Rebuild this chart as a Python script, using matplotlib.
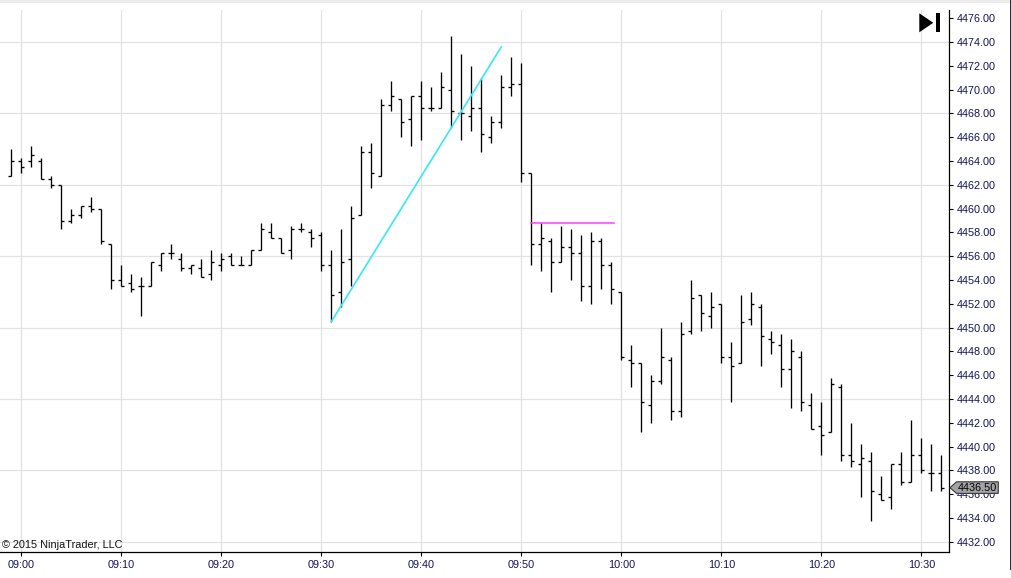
import matplotlib
matplotlib.use("Agg")
import matplotlib.pyplot as plt
from matplotlib.patches import Polygon, Rectangle
import pandas as pd

# --- data: 1-minute OHLC bars, 08:59 .. 10:32 ---
opens = [4462.75, 4464.0, 4464.0, 4464.0, 4462.5, 4462.0, 4459.0, 4459.5, 4460.25, 4460.0,
         4457.0, 4454.0, 4453.75, 4453.5, 4453.5, 4455.25, 4456.25, 4455.75, 4455.0, 4455.0,
         4454.5, 4455.25, 4456.0, 4455.25, 4455.25, 4456.5, 4458.0, 4457.5, 4456.5, 4458.25,
         4458.0, 4457.75, 4455.25, 4453.0, 4455.75, 4459.5, 4464.75, 4462.75, 4468.75, 4469.25,
         4467.5, 4469.5, 4468.5, 4468.5, 4470.0, 4468.0, 4467.75, 4468.5, 4466.0, 4467.25,
         4470.25, 4470.5, 4463.0, 4457.0, 4457.25, 4455.5, 4456.75, 4456.25, 4453.5, 4457.25,
         4455.25, 4453.0, 4447.25, 4447.0, 4443.5, 4445.5, 4447.25, 4443.0, 4449.75, 4452.75,
         4451.0, 4452.0, 4447.5, 4447.0, 4450.75, 4451.75, 4449.0, 4448.5, 4446.5, 4447.5,
         4443.5, 4441.75, 4441.25, 4445.0, 4439.25, 4438.5, 4438.75, 4436.0, 4435.75, 4438.5,
         4437.0, 4439.25, 4437.75, 4437.75]
highs = [4465.0, 4464.25, 4465.25, 4464.25, 4462.75, 4462.0, 4460.0, 4460.25, 4461.0, 4460.0,
         4457.0, 4455.25, 4454.5, 4454.25, 4455.5, 4456.25, 4457.0, 4456.25, 4455.25, 4455.75,
         4456.5, 4456.25, 4456.25, 4456.0, 4456.5, 4458.75, 4458.75, 4457.5, 4458.5, 4458.75,
         4458.25, 4458.0, 4456.5, 4458.25, 4460.25, 4465.25, 4465.5, 4469.25, 4470.75, 4469.25,
         4469.5, 4470.75, 4470.25, 4471.5, 4474.5, 4473.0, 4472.0, 4471.0, 4467.75, 4471.25,
         4472.75, 4472.25, 4463.0, 4458.75, 4457.5, 4458.5, 4458.25, 4457.75, 4458.0, 4457.5,
         4455.5, 4453.0, 4448.5, 4447.0, 4446.0, 4450.0, 4447.5, 4450.5, 4454.0, 4452.75,
         4453.0, 4452.0, 4448.75, 4452.75, 4453.0, 4452.0, 4449.75, 4449.5, 4449.0, 4448.0,
         4444.5, 4443.75, 4445.75, 4445.25, 4442.0, 4440.25, 4439.5, 4437.5, 4438.5, 4439.5,
         4442.25, 4440.75, 4440.25, 4439.25]
lows = [4462.75, 4463.0, 4463.5, 4462.5, 4461.75, 4458.25, 4458.75, 4459.25, 4459.75, 4457.0,
        4453.25, 4453.5, 4453.0, 4451.0, 4453.5, 4454.75, 4455.75, 4454.75, 4454.5, 4454.25,
        4454.0, 4454.75, 4455.25, 4455.25, 4455.25, 4456.5, 4457.5, 4456.25, 4455.75, 4458.0,
        4456.75, 4454.75, 4450.5, 4451.75, 4453.5, 4459.5, 4461.75, 4462.75, 4468.25, 4466.0,
        4465.25, 4465.75, 4468.25, 4468.5, 4466.75, 4465.75, 4466.5, 4464.75, 4465.5, 4466.75,
        4469.5, 4462.25, 4455.25, 4454.75, 4453.0, 4455.5, 4454.0, 4452.25, 4452.0, 4453.25,
        4452.0, 4447.25, 4445.0, 4441.25, 4442.0, 4445.25, 4442.25, 4442.5, 4449.5, 4449.75,
        4450.0, 4447.0, 4443.75, 4447.0, 4450.25, 4446.75, 4447.75, 4445.0, 4443.25, 4443.0,
        4441.5, 4439.25, 4441.25, 4438.75, 4438.25, 4435.75, 4433.75, 4435.5, 4434.75, 4436.75,
        4437.0, 4437.75, 4436.25, 4436.25]
closes = [4464.0, 4463.5, 4464.5, 4462.5, 4462.0, 4459.0, 4459.5, 4460.25, 4460.0, 4457.25,
          4454.0, 4453.5, 4453.25, 4453.5, 4455.5, 4456.25, 4456.25, 4455.0, 4455.25, 4454.25,
          4455.5, 4455.75, 4455.25, 4455.25, 4456.5, 4458.25, 4457.5, 4456.25, 4458.25, 4458.25,
          4457.5, 4455.25, 4452.75, 4455.5, 4459.25, 4464.75, 4463.0, 4468.75, 4469.5, 4467.25,
          4469.5, 4468.5, 4468.5, 4470.25, 4468.25, 4468.0, 4468.5, 4466.25, 4467.25, 4470.25,
          4470.5, 4463.0, 4457.0, 4457.5, 4455.5, 4456.75, 4456.25, 4453.5, 4457.25, 4455.25,
          4453.25, 4447.5, 4447.0, 4443.75, 4445.5, 4447.5, 4443.0, 4449.5, 4452.5, 4451.25,
          4451.75, 4447.5, 4446.75, 4450.5, 4452.0, 4449.25, 4448.75, 4446.5, 4448.0, 4443.75,
          4441.5, 4441.0, 4445.25, 4439.25, 4438.75, 4439.0, 4436.25, 4435.5, 4438.5, 4437.0,
          4439.25, 4438.0, 4437.75, 4436.5]

times = pd.date_range("2015-01-01 08:59", periods=len(opens), freq="min")
session_start = pd.Timestamp("2015-01-01 09:00")

# drawing objects on the chart
trend_start = ("09:31", 4450.5)
trend_end = ("09:48", 4473.6)
hline_price = 4458.8
hline_span = ("09:51", "09:59:18")

xtick_labels = ["09:00", "09:10", "09:20", "09:30", "09:40", "09:50",
                "10:00", "10:10", "10:20", "10:30"]
ytick_values = [4432 + 2 * i for i in range(23)]
ygrid_values = [4432, 4438, 4444, 4450, 4456, 4462, 4468, 4474]
last_price = closes[-1]

W, H = 1012, 578
label_color = "#14145a"


def minutes(t):
    return (pd.Timestamp("2015-01-01 " + t) - session_start).total_seconds() / 60


x = [(t - session_start).total_seconds() / 60 for t in times]

plt.rcParams['font.family'] = ['Liberation Sans', 'DejaVu Sans']
fig = plt.figure(figsize=(W / 100, H / 100), dpi=100)

ax_left, ax_right, ax_bottom, ax_top = 0, 949.3, 552, 10
ax = fig.add_axes([ax_left / W, (H - ax_bottom) / H,
                   (ax_right - ax_left) / W, (ax_bottom - ax_top) / H])
ax.set_xlim(-2.13, 92.8)
ax.set_ylim(4431.13, 4476.70)

# grid
for gv in ygrid_values:
    ax.axhline(gv, color="#e2e2e2", lw=0.9, zorder=0)
for lbl in xtick_labels:
    ax.axvline(minutes(lbl), color="#e2e2e2", lw=0.9, zorder=0)

# OHLC bars
tick = 0.3
ax.vlines(x, lows, highs, color="black", lw=0.95, zorder=3)
ax.hlines(opens, [v - tick for v in x], x, color="black", lw=0.95, zorder=3)
ax.hlines(closes, x, [v + tick for v in x], color="black", lw=0.95, zorder=3)

# trend line and horizontal line
ax.plot([minutes(trend_start[0]), minutes(trend_end[0])],
        [trend_start[1], trend_end[1]], color="#3ee8f2", lw=1.25, zorder=4)
ax.plot([minutes(hline_span[0]), minutes(hline_span[1])],
        [hline_price, hline_price], color="#ff3cff", lw=1.1, zorder=4)

# axes styling
for s in ["top", "left"]:
    ax.spines[s].set_visible(False)
for s in ["bottom", "right"]:
    ax.spines[s].set_color("black")
    ax.spines[s].set_linewidth(0.9)
ax.yaxis.tick_right()
ax.set_xticks([minutes(l) for l in xtick_labels])
ax.set_xticklabels(xtick_labels)
ax.set_yticks(ytick_values)
ax.set_yticklabels([f"{v:.2f}" for v in ytick_values])
ax.tick_params(axis="x", direction="out", length=3.2, width=0.8, pad=2.5,
               labelsize=7.8, labelcolor=label_color)
ax.tick_params(axis="y", direction="out", length=3, width=0.8, pad=2.2,
               labelsize=7.8, labelcolor=label_color)

# copyright
fig.text(2 / W, (H - 548.5) / H, "\u00a9 2015 NinjaTrader, LLC", fontsize=7.8,
         color="#111111", ha="left", va="baseline")

# last price marker
tip_x, tip_y = 950, 487.7
bx0, bx1, by0, by1 = 956.5, 998.3, 481.8, 493.4
pts = [(tip_x, tip_y), (bx0, by0), (bx1, by0), (bx1, by1), (bx0, by1)]
fig.patches.append(Polygon([(px / W, (H - py) / H) for px, py in pts], closed=True,
                           transform=fig.transFigure, facecolor="#a3a3a3",
                           edgecolor="#3a3a3a", lw=0.8, zorder=10))
fig.text((bx0 + bx1) / 2 / W, (H - tip_y) / H, f"{last_price:.2f}", fontsize=7.8,
         color="black", ha="center", va="center", zorder=11)

# "go to end" icon
tri = [(919.3, 13.3), (933.3, 22.8), (919.3, 32.3)]
fig.patches.append(Polygon([(px / W, (H - py) / H) for px, py in tri], closed=True,
                           transform=fig.transFigure, facecolor="black", edgecolor="none"))
fig.patches.append(Rectangle((936 / W, (H - 32.3) / H), 4 / W, 19 / H,
                             transform=fig.transFigure, facecolor="black", edgecolor="none"))

# window frame remnants
fig.patches.append(Rectangle((0, (H - 3) / H), 1, 3 / H, transform=fig.transFigure,
                             facecolor="#ececec", edgecolor="none"))
fig.patches.append(Rectangle((1010 / W, 8 / H), 2 / W, (H - 8) / H, transform=fig.transFigure,
                             facecolor="#2a2a2a", edgecolor="none"))

fig.savefig("out.png", dpi=100)
